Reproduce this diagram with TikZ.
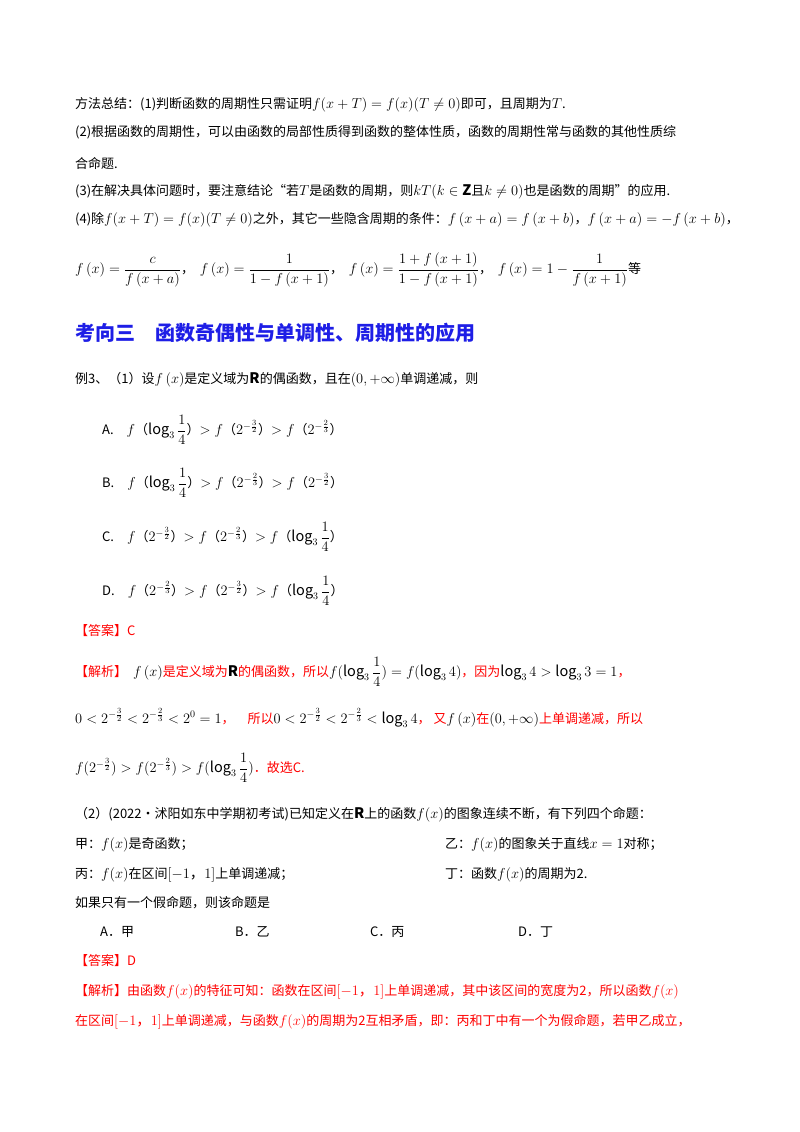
\documentclass[tikz,border=0pt]{standalone}
\usepackage{amsmath,amssymb}
\usepackage{fontspec}
\setmainfont{Noto Sans CJK SC}
\DeclareMathSizes{13}{14.5}{10}{8}
\begin{document}
\begin{tikzpicture}[x=1pt,y=-1pt,
  t/.style={anchor=west,inner sep=0pt,font=\fontsize{13}{15}\selectfont},
  r/.style={t,text=red},
  h/.style={anchor=west,inner sep=0pt,font=\fontsize{20}{24}\selectfont\bfseries,text={rgb,255:red,30;green,30;blue,230}}]
\useasboundingbox (0,0) rectangle (800,1132);
\node[t] (l1) at (75,105) {方法总结：(1)判断函数的周期性只需证明$f(x+T)=f(x)(T\neq0)$即可，且周期为$T$.};
\node[t] (l2) at (75,132) {(2)根据函数的周期性，可以由函数的局部性质得到函数的整体性质，函数的周期性常与函数的其他性质综};
\node[t] (l3) at (75,163) {合命题.};
\node[t] (l4) at (75,192) {(3)在解决具体问题时，要注意结论“若$T$是函数的周期，则$kT(k\in\mathbf{Z}$且$k\neq0)$也是函数的周期”的应用.};
\node[t] (l5) at (75,220) {(4)除$f(x+T)=f(x)(T\neq0)$之外，其它一些隐含周期的条件：$f\left(x+a\right)=f\left(x+b\right)$，$f\left(x+a\right)=-f\left(x+b\right)$，};
\node[t] (l6) at (75,270) {$f\left(x\right)=\dfrac{c}{f\left(x+a\right)}$，\ \ $f\left(x\right)=\dfrac{1}{1-f\left(x+1\right)}$，\ \ $f\left(x\right)=\dfrac{1+f\left(x+1\right)}{1-f\left(x+1\right)}$，\ \ $f\left(x\right)=1-\dfrac{1}{f\left(x+1\right)}$等};
\node[h] (hd) at (75,333) {考向三\quad 函数奇偶性与单调性、周期性的应用};
\node[t] (e1) at (75,380) {例3、（1）设$f\left(x\right)$是定义域为$\mathbf{R}$的偶函数，且在$\left(0,+\infty\right)$单调递减，则};
\node[t] (oA) at (102,430) {A.\quad $f$（$\log_3\dfrac14$）$>f$（$2^{-\frac32}$）$>f$（$2^{-\frac23}$）};
\node[t] (oB) at (102,483) {B.\quad $f$（$\log_3\dfrac14$）$>f$（$2^{-\frac23}$）$>f$（$2^{-\frac32}$）};
\node[t] (oC) at (102,537) {C.\quad $f$（$2^{-\frac32}$）$>f$（$2^{-\frac23}$）$>f$（$\log_3\dfrac14$）};
\node[t] (oD) at (102,591) {D.\quad $f$（$2^{-\frac23}$）$>f$（$2^{-\frac32}$）$>f$（$\log_3\dfrac14$）};
\node[r] (a1) at (75,631) {【答案】C};
\node[r] (j1) at (75,672) {【解析】\ \ $\color{black}f\left(x\right)$是定义域为$\color{black}\mathbf{R}$的偶函数，所以$\color{black}f(\log_3\dfrac14)=f(\log_3 4)$，因为$\color{black}\log_3 4>\log_3 3=1$，};
\node[r] (j2) at (75,718) {$\color{black}0<2^{-\frac32}<2^{-\frac23}<2^0=1$，\quad 所以$\color{black}0<2^{-\frac32}<2^{-\frac23}<\log_3 4$，\ 又$\color{black}f\left(x\right)$在$\color{black}(0,+\infty)$上单调递减，所以};
\node[r] (j3) at (75,768) {$\color{black}f(2^{-\frac32})>f(2^{-\frac23})>f(\log_3\dfrac14)$．故选C.};
\node[t] (p2) at (75,815) {（2）(2022·沭阳如东中学期初考试)已知定义在$\mathbf{R}$上的函数$f(x)$的图象连续不断，有下列四个命题：};
\node[t] (ja) at (75,845) {甲：$f(x)$是奇函数；};
\node[t] (yi) at (445,845) {乙：$f(x)$的图象关于直线$x=1$对称；};
\node[t] (bi) at (75,875) {丙：$f(x)$在区间$[-1，1]$上单调递减；};
\node[t] (di) at (445,875) {丁：函数$f(x)$的周期为2.};
\node[t] (q) at (75,903) {如果只有一个假命题，则该命题是};
\node[t] (qA) at (100,932) {A．甲};
\node[t] (qB) at (235,932) {B．乙};
\node[t] (qC) at (370,932) {C．丙};
\node[t] (qD) at (518,932) {D．丁};
\node[r] (a2) at (75,961) {【答案】D};
\node[r] (k1) at (75,992) {【解析】由函数$f(x)$的特征可知：函数在区间$[-1，1]$上单调递减，其中该区间的宽度为2，所以函数$f(x)$};
\node[r] (k2) at (75,1022) {在区间$[-1，1]$上单调递减，与函数$f(x)$的周期为2互相矛盾，即：丙和丁中有一个为假命题，若甲乙成立，};
\end{tikzpicture}
\end{document}
